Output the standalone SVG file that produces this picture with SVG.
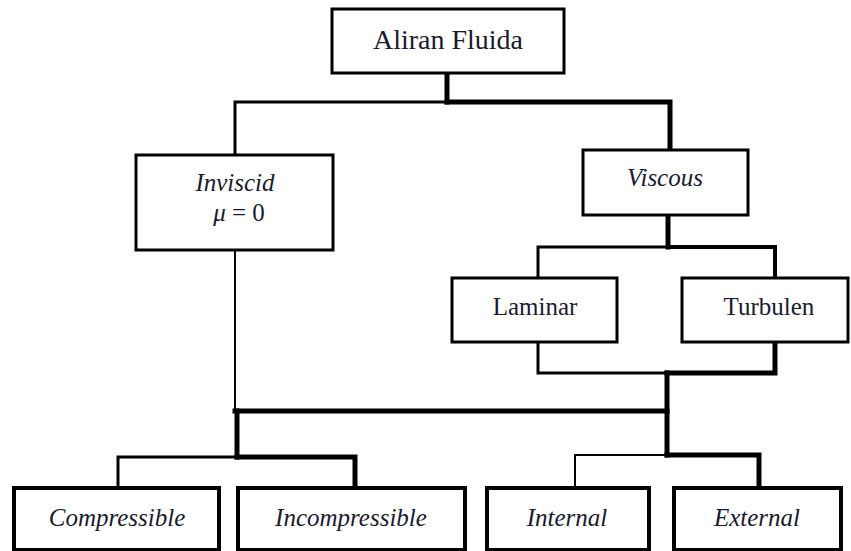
<svg xmlns="http://www.w3.org/2000/svg" width="851" height="551" viewBox="0 0 851 551">
<rect width="851" height="551" fill="#fff"/>
<g id="connectors" fill="none" stroke="#000" stroke-linecap="square" stroke-linejoin="miter">
<path stroke-width="5" d="M447 74V102"/>
<path stroke-width="3" d="M447 102H235V154"/>
<path stroke-width="5" d="M447 102H670V149"/>
<path stroke-width="5" d="M668 216V247"/>
<path stroke-width="3" d="M668 247H538V276"/>
<path stroke-width="4" d="M668 247H775V276"/>
<path stroke-width="3" d="M538 343V373H667"/>
<path stroke-width="5" d="M775 343V373H667"/>
<path stroke-width="5" d="M667 373V455"/>
<path stroke-width="2" d="M235 251V411"/>
<path stroke-width="5" d="M235 411H667"/>
<path stroke-width="5" d="M237 411V457"/>
<path stroke-width="3" d="M237 457H118V486"/>
<path stroke-width="5" d="M237 457H355V486"/>
<path stroke-width="2" d="M667 455H575V486"/>
<path stroke-width="5" d="M667 455H759V486"/>
</g>
<g font-family="Liberation Serif" text-anchor="middle" font-size="25">
<g fill="#fff" stroke="#000" stroke-width="3">
<g id="aliran">
<rect x="332" y="9" width="232" height="64"/>
<text x="448" y="49" font-size="28" fill="#1a1a2e" stroke="none">Aliran Fluida</text>
</g>
<g id="inviscid">
<rect x="136" y="155" width="197" height="95"/>
<text x="235" y="191" font-style="italic" fill="#1a1a2e" stroke="none">Inviscid</text>
<text x="239" y="221" fill="#1a1a2e" stroke="none"><tspan font-style="italic">&#956;</tspan> = 0</text>
</g>
<g id="viscous">
<rect x="583" y="150" width="165" height="65"/>
<text x="665" y="186" font-style="italic" fill="#1a1a2e" stroke="none">Viscous</text>
</g>
<g id="laminar">
<rect x="452" y="278" width="165" height="64"/>
<text x="535" y="315" fill="#1a1a2e" stroke="none">Laminar</text>
</g>
<g id="turbulen">
<rect x="682" y="278" width="166" height="64"/>
<text x="769" y="315" fill="#1a1a2e" stroke="none">Turbulen</text>
</g>
</g>
<g fill="#fff" stroke="#000" stroke-width="4" font-style="italic">
<g id="compressible">
<rect x="14" y="488" width="205" height="62"/>
<text x="117" y="526" fill="#1a1a2e" stroke="none">Compressible</text>
</g>
<g id="incompressible">
<rect x="238" y="488" width="227" height="62"/>
<text x="351" y="526" fill="#1a1a2e" stroke="none">Incompressible</text>
</g>
<g id="internal">
<rect x="487" y="488" width="162" height="62"/>
<text x="567" y="526" fill="#1a1a2e" stroke="none">Internal</text>
</g>
<g id="external">
<rect x="674" y="488" width="167" height="62"/>
<text x="757" y="526" fill="#1a1a2e" stroke="none">External</text>
</g>
</g>
</g>
</svg>
